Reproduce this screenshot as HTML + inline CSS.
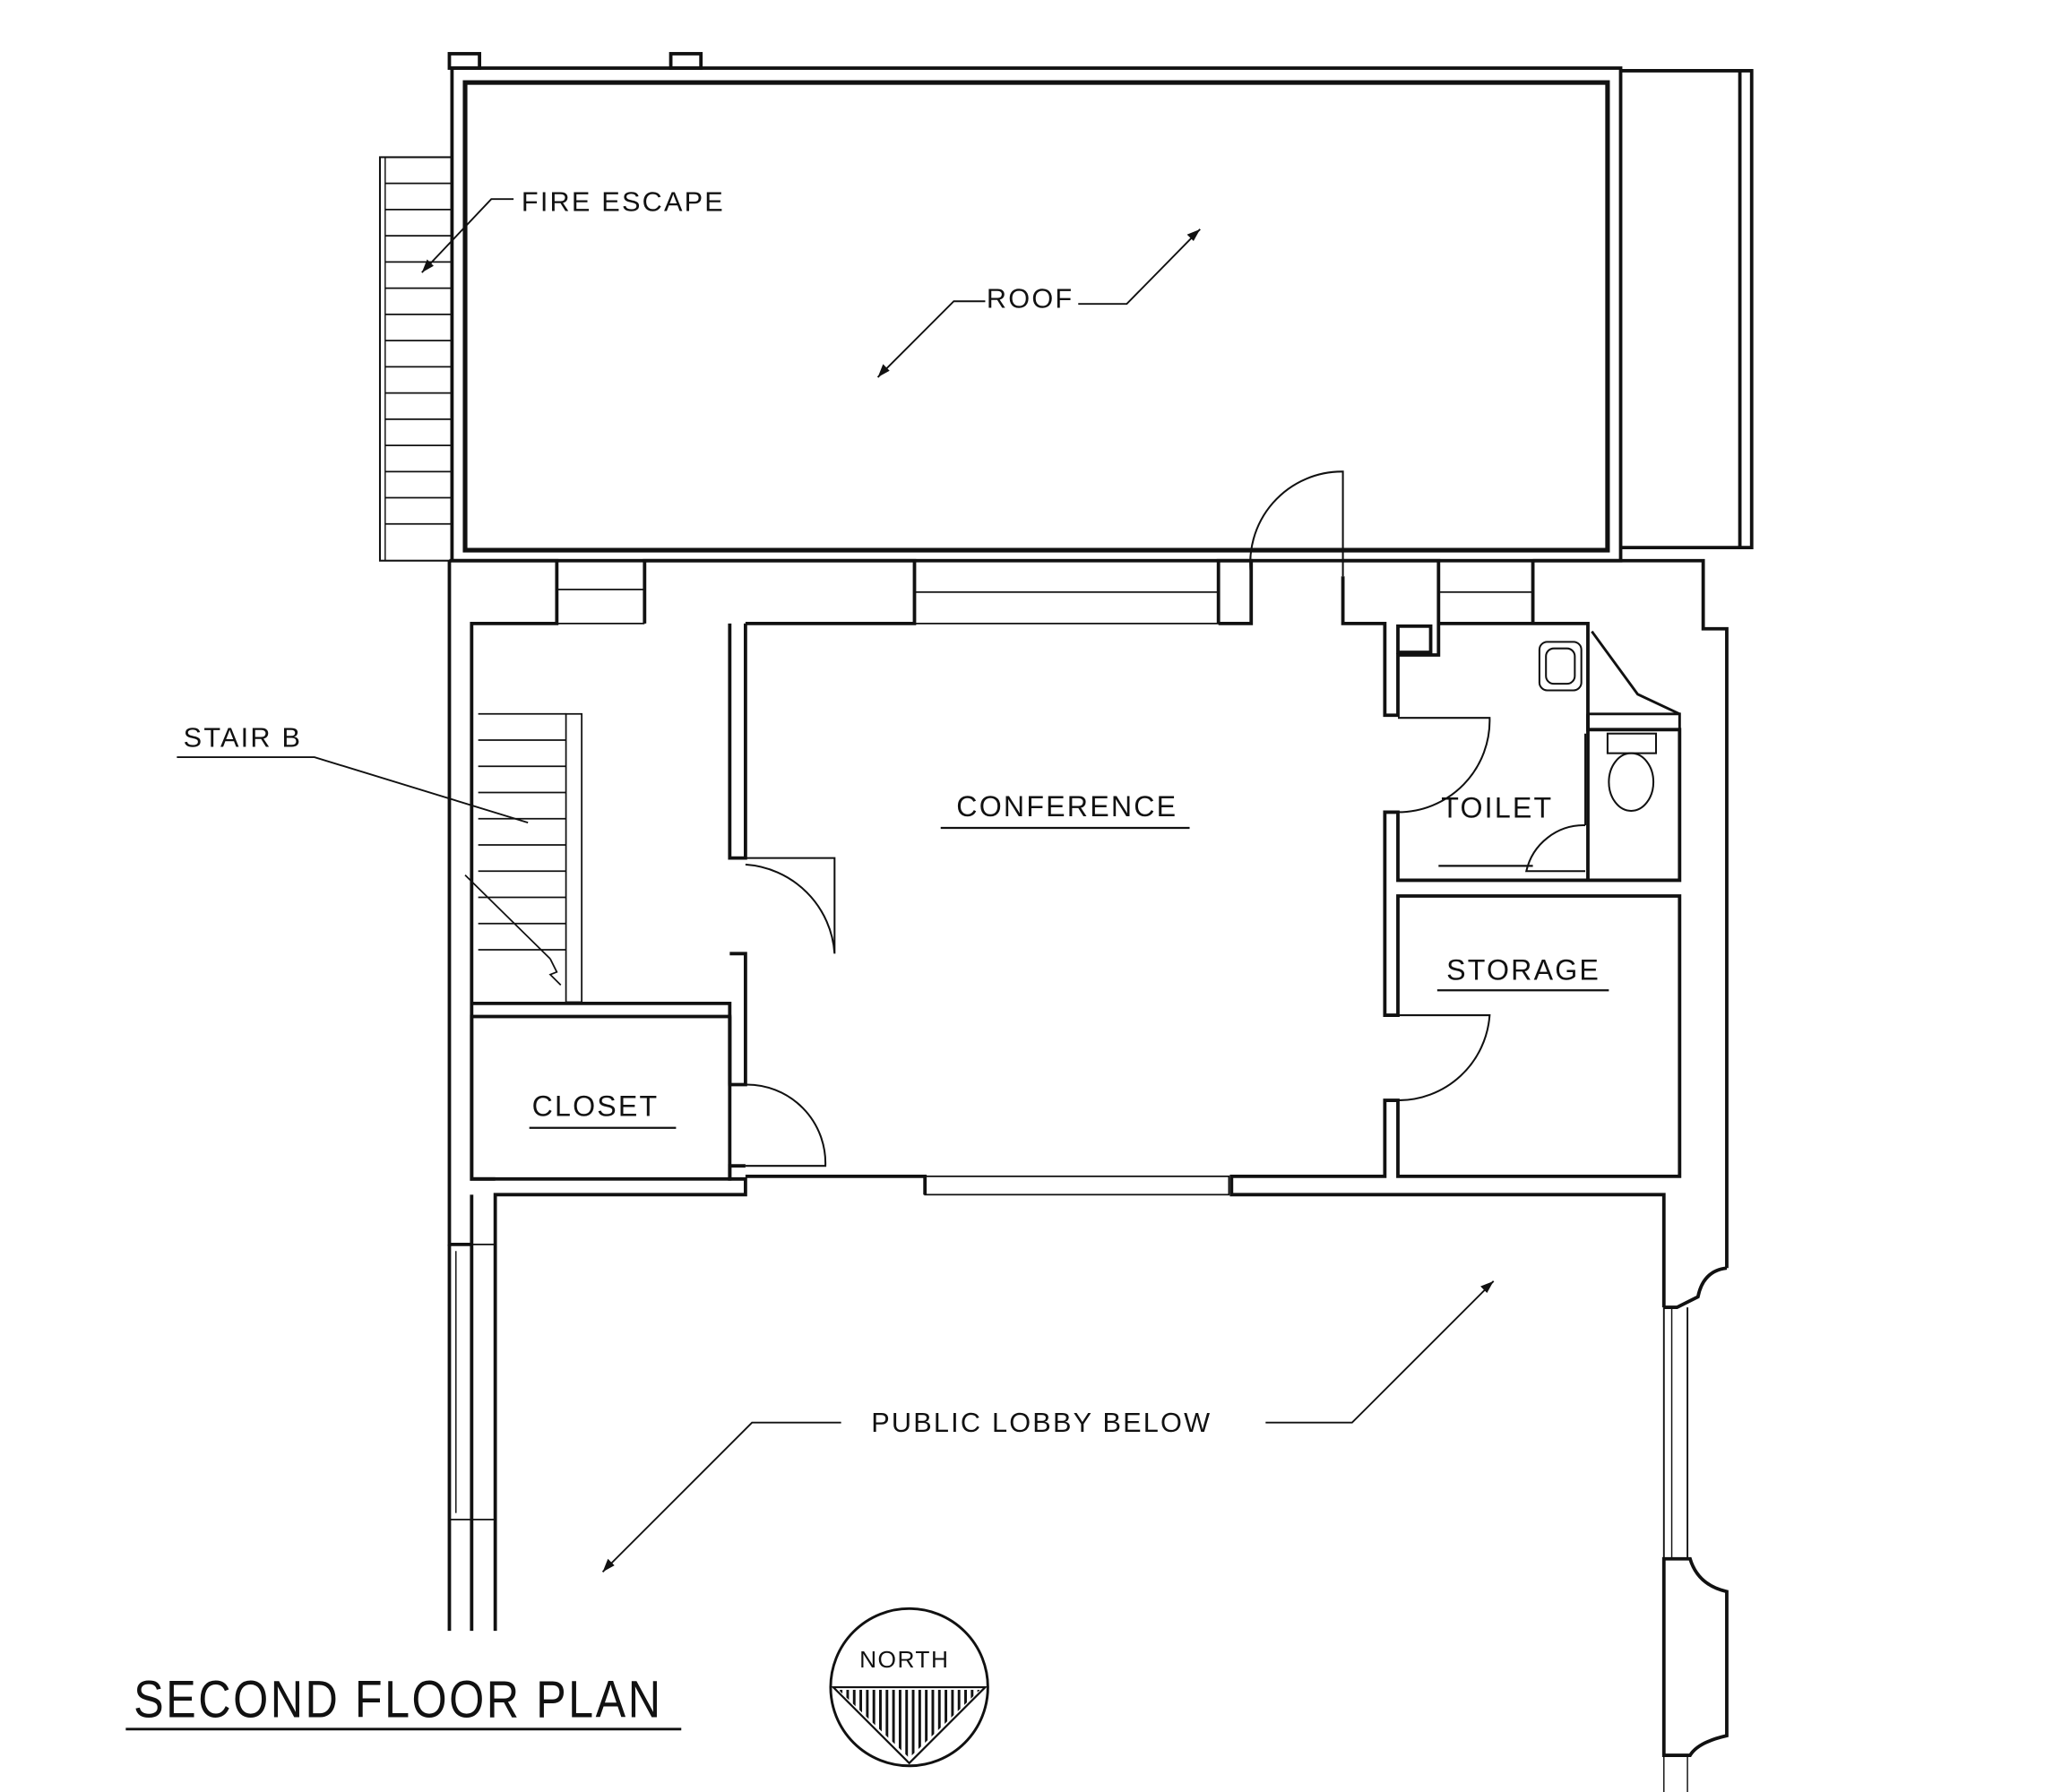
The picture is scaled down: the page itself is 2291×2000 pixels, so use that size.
<!DOCTYPE html>
<html><head><meta charset="utf-8"><style>
html,body{margin:0;padding:0;background:#fff}
svg{display:block}
text{font-family:"Liberation Sans",sans-serif;fill:#111}
</style></head><body>
<svg width="2291" height="2000" viewBox="0 0 1567 1368" preserveAspectRatio="none" xmlns="http://www.w3.org/2000/svg">
<g fill="none" stroke="#111" stroke-width="2.6" stroke-linejoin="miter">
<rect x="343" y="41" width="23" height="11"/>
<rect x="512" y="41" width="23" height="11"/>
<rect x="345" y="52" width="892" height="376"/>
<rect x="355" y="63" width="872" height="357" stroke-width="3.5"/>
<polyline points="1237,54 1337,54 1337,418 1237,418"/>
<line x1="1328" y1="54" x2="1328" y2="418"/>
<rect x="290" y="120" width="55" height="308" stroke-width="1.4"/>
<rect x="294" y="120" width="51" height="308" stroke-width="1"/>
<g stroke-width="1.2">
<line x1="294" y1="140" x2="345" y2="140"/><line x1="294" y1="160" x2="345" y2="160"/><line x1="294" y1="180" x2="345" y2="180"/><line x1="294" y1="200" x2="345" y2="200"/><line x1="294" y1="220" x2="345" y2="220"/><line x1="294" y1="240" x2="345" y2="240"/><line x1="294" y1="260" x2="345" y2="260"/><line x1="294" y1="280" x2="345" y2="280"/><line x1="294" y1="300" x2="345" y2="300"/><line x1="294" y1="320" x2="345" y2="320"/><line x1="294" y1="340" x2="345" y2="340"/><line x1="294" y1="360" x2="345" y2="360"/><line x1="294" y1="380" x2="345" y2="380"/><line x1="294" y1="400" x2="345" y2="400"/>
</g>
<polyline points="343,428 343,950 360,950"/>
<polyline points="343,428 425,428 425,476 360,476 360,900 378,900"/>
<line x1="425" y1="450" x2="492" y2="450" stroke-width="1.2"/>
<line x1="425" y1="476" x2="492" y2="476" stroke-width="1.2"/>
<polyline points="492,476 492,428 698,428 698,476 569,476"/>
<rect x="698" y="452" width="232" height="24" stroke-width="1.2"/>
<polyline points="930,476 930,428 955,428 955,476 930,476"/>
<polyline points="1025,440 1025,476 1057,476 1057,546 1067,546 1067,500 1098,500 1098,428 1025,428"/>
<rect x="1067" y="478" width="25" height="20"/>
<rect x="1098" y="452" width="72" height="24" stroke-width="1.2"/>
<polyline points="1170,428 1300,428 1300,480 1318,480 1318,968"/>
<path d="M1318,968 Q1300,970 1296,990 L1280,998 L1270,998"/>
<polyline points="1170,476 1170,428"/>
<polyline points="1098,476 1212,476 1212,557 1282,557 1282,672 1067,672 1067,620 1057,620 1057,775 1067,775 1067,684 1282,684 1282,898 1067,898 1067,840 1057,840 1057,898 940,898 940,912 1270,912 1270,998"/>
<polyline points="1212,476 1212,545 1282,545 1282,557" stroke-width="2"/>
<polyline points="1215,482 1250,530 1282,545" stroke-width="2"/>
<line x1="1212" y1="545" x2="1212" y2="672"/>
<polyline points="569,476 569,655 557,655 557,476"/>
<polyline points="557,728 569,728 569,828 557,828 557,766 360,766"/>
<rect x="360" y="776" width="197" height="124"/>
<line x1="557" y1="776" x2="557" y2="828"/>
<polyline points="569,890 557,890 557,900 569,900 569,912 378,912 378,1245"/>
<polyline points="569,898 706,898 706,912"/>
<rect x="706" y="898" width="232" height="14" stroke-width="1.2"/>
<line x1="360" y1="912" x2="360" y2="1245"/>
<line x1="343" y1="950" x2="343" y2="1245"/>
<rect x="343" y="950" width="35" height="210" stroke-width="1.2"/>
<line x1="348" y1="955" x2="348" y2="1155" stroke-width="1"/>
<line x1="1270" y1="998" x2="1270" y2="1190" stroke-width="1.3"/>
<line x1="1276" y1="998" x2="1276" y2="1190" stroke-width="1"/>
<line x1="1288" y1="998" x2="1288" y2="1190" stroke-width="1.3"/>
<path d="M1270,1190 L1290,1190 Q1296,1210 1318,1215 L1318,1325 Q1296,1330 1290,1340 L1270,1340 Z"/>
<line x1="1270" y1="1340" x2="1270" y2="1368" stroke-width="1"/><line x1="1288" y1="1340" x2="1288" y2="1368" stroke-width="1"/>
<g stroke-width="1.4">
<path d="M955,440 A70,70 0 0 1 1025,360 L1025,440"/>
<path d="M569,655 L637,655 L637,728 A73,73 0 0 0 569,660"/>
<path d="M569,828 A60,60 0 0 1 630,890 L569,890"/>
<path d="M1067,548 L1137,548 A70,70 0 0 1 1067,620"/>
<path d="M1067,775 L1137,775 A70,70 0 0 1 1067,840"/>
<path d="M1210,630 A45,45 0 0 0 1165,665 L1210,665"/>
<line x1="1210" y1="560" x2="1210" y2="630"/>
<rect x="1175" y="490" width="32" height="37" rx="6"/><rect x="1180" y="495" width="22" height="27" rx="6"/>
<rect x="1227" y="560" width="37" height="15"/><ellipse cx="1245" cy="597" rx="17" ry="22"/>
</g>
<g stroke-width="1.2">
<rect x="432" y="545" width="12" height="220"/>
<line x1="365" y1="545" x2="432" y2="545"/><line x1="365" y1="565" x2="432" y2="565"/><line x1="365" y1="585" x2="432" y2="585"/><line x1="365" y1="605" x2="432" y2="605"/><line x1="365" y1="625" x2="432" y2="625"/><line x1="365" y1="645" x2="432" y2="645"/><line x1="365" y1="665" x2="432" y2="665"/><line x1="365" y1="685" x2="432" y2="685"/><line x1="365" y1="705" x2="432" y2="705"/><line x1="365" y1="725" x2="432" y2="725"/>
<line x1="355" y1="668" x2="420" y2="732"/><polyline points="420,732 425,742 420,744 428,752"/>
</g>
<g stroke-width="1.3">
<polyline points="392,152 375,152 322,208"/>
<polyline points="752,230 728,230 670,288"/>
<polyline points="823,232 860,232 916,175"/>
<polyline points="135,578 240,578 403,628"/>
<polyline points="642,1086 574,1086 460,1200"/>
<polyline points="966,1086 1032,1086 1140,978"/>
</g>
<g fill="#111" stroke="none">
<polygon points="322,208 326,198 331,203"/>
<polygon points="670,288 674,278 679,283"/>
<polygon points="916,175 906,179 911,184"/>
<polygon points="460,1200 464,1190 469,1195"/>
<polygon points="1140,978 1130,982 1135,987"/>
</g>
<g stroke-width="1.5">
<line x1="718" y1="632" x2="908" y2="632"/>
<line x1="1098" y1="661" x2="1170" y2="661"/>
<line x1="1097" y1="756" x2="1228" y2="756"/>
<line x1="404" y1="861" x2="516" y2="861"/>
<line x1="96" y1="1320" x2="520" y2="1320" stroke-width="2"/>
</g>
<circle cx="694" cy="1288" r="60" stroke-width="2"/>
<path d="M636,1288 L752,1288 L694,1346 Z" stroke-width="1.5"/>
</g>
<defs><pattern id="h" width="5" height="5" patternUnits="userSpaceOnUse"><line x1="2" y1="0" x2="2" y2="5" stroke="#111" stroke-width="2"/></pattern></defs>
<path d="M640,1290 L748,1290 L694,1342 Z" fill="url(#h)"/>
<text x="398" y="161" font-size="21" letter-spacing="1.5">FIRE ESCAPE</text>
<text x="753" y="235" font-size="21" letter-spacing="1.5">ROOF</text>
<text x="140" y="570" font-size="21" letter-spacing="1.5">STAIR B</text>
<text x="730" y="623" font-size="22" letter-spacing="1.5">CONFERENCE</text>
<text x="1100" y="624" font-size="22" letter-spacing="1.5">TOILET</text>
<text x="1104" y="748" font-size="22" letter-spacing="1.5">STORAGE</text>
<text x="406" y="852" font-size="22" letter-spacing="1.5">CLOSET</text>
<text x="665" y="1093" font-size="21" letter-spacing="1.5">PUBLIC LOBBY BELOW</text>
<text x="656" y="1273" font-size="18" letter-spacing="1">NORTH</text>
<text x="0" y="0" font-size="40" letter-spacing="2" transform="translate(102 1311) scale(0.86 1)">SECOND FLOOR PLAN</text>
</svg>
</body></html>
